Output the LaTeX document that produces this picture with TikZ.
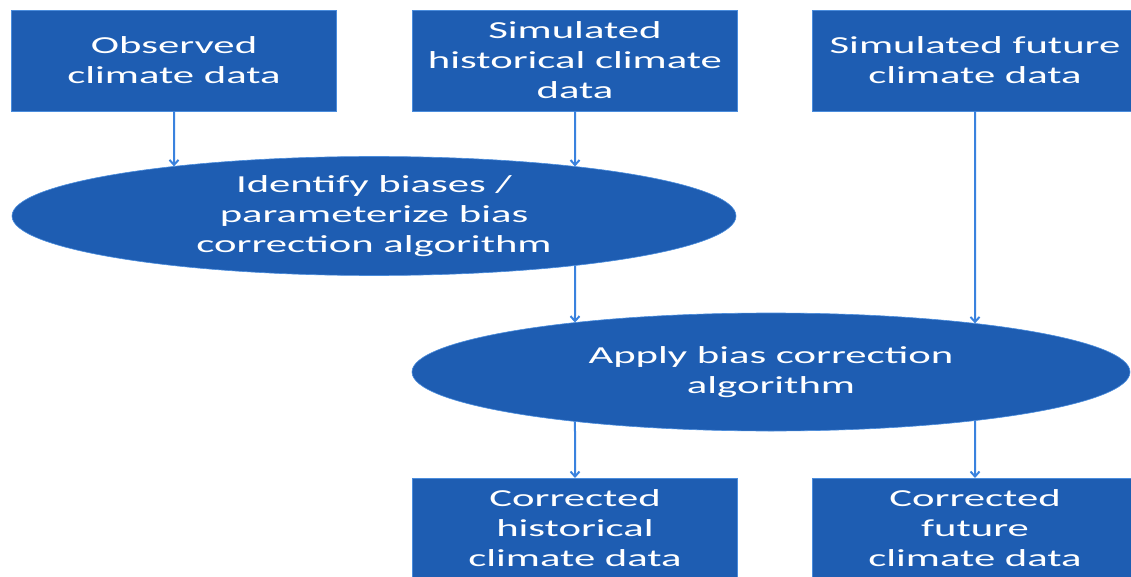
\documentclass[tikz,border=0pt]{standalone}
\usepackage{fontspec}
\setmainfont{Carlito}[FakeStretch=1.75]
\usetikzlibrary{arrows.meta,shapes.geometric,intersections}
\definecolor{boxblue}{RGB}{30,93,178}
\definecolor{edgeblue}{RGB}{74,140,220}
\definecolor{arrowblue}{RGB}{58,130,222}

\begin{document}
\begin{tikzpicture}[x=1pt,y=1pt,>={Straight Barb[length=5pt,width=9pt]},
  every node/.style={fill=boxblue,draw=edgeblue,line width=.6pt,text=white,align=center,inner sep=0pt,outer sep=0pt,font=\fontsize{24.4}{30}\selectfont},
  databox/.style={rectangle,minimum width=325pt,minimum height=101pt},
  stepoval/.style={ellipse,inner ysep=-6pt,minimum height=119pt},
  flow/.style={->,draw=arrowblue,line width=2pt}]
\useasboundingbox (0,0) rectangle (1131,-577);
\node[databox] (obs) at (174,-60.5) {Observed\\climate data};
\node[databox] (hist) at (575,-60.5) {Simulated\\historical climate\\data};
\node[databox] (fut) at (975,-60.5) {Simulated future\\climate data};
\node[stepoval,minimum width=724pt,name path=identrim] (ident) at (374,-216) {Identify biases /\\parameterize bias\\correction algorithm};
\node[stepoval,minimum width=718pt,minimum height=118pt,name path=applyrim] (apply) at (771,-372) {Apply bias correction\\algorithm};
\node[databox,minimum height=100pt] (chist) at (575,-528) {Corrected\\historical\\climate data};
\node[databox,minimum height=100pt] (cfut) at (975,-528) {Corrected\\future\\climate data};
% vertical drops, cut at the ellipse rims
\path[name path=obsdrop] (obs.south) -- ++(0,-100);
\path[name path=histdrop] (hist.south) -- (chist.north);
\path[name path=futdrop] (fut.south) -- (cfut.north);
\path[name intersections={of=obsdrop and identrim,name=a}];
\path[name intersections={of=histdrop and identrim,name=b,sort by=histdrop}];
\path[name intersections={of=histdrop and applyrim,name=c,sort by=histdrop}];
\path[name intersections={of=futdrop and applyrim,name=d,sort by=futdrop}];
\draw[flow] (obs.south) -- (a-1);
\draw[flow] (hist.south) -- (b-1);
\draw[flow] (b-2) -- (c-1);
\draw[flow] (fut.south) -- (d-1);
\draw[flow] (c-2) -- (chist.north);
\draw[flow] (d-2) -- (cfut.north);
\end{tikzpicture}
\end{document}
